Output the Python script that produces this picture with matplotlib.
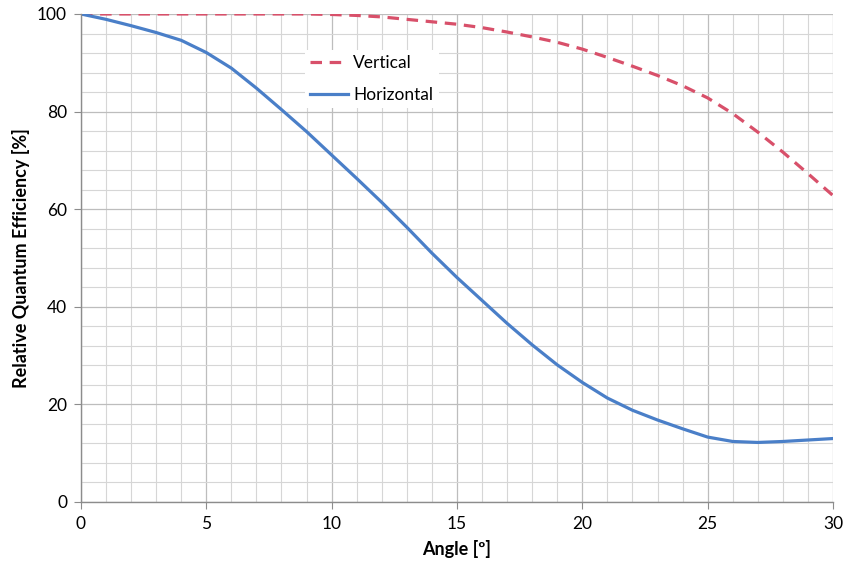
import matplotlib
matplotlib.use("Agg")
import matplotlib.pyplot as plt
from matplotlib.ticker import MultipleLocator

plt.rcParams["font.family"] = ["Lato", "DejaVu Sans"]

# data
angle = [0, 1, 2, 3, 4, 5, 6, 7, 8, 9, 10, 11, 12, 13, 14, 15, 16, 17, 18,
         19, 20, 21, 22, 23, 24, 25, 26, 27, 28, 29, 30]
horizontal = [100, 98.9, 97.6, 96.2, 94.6, 92.1, 88.9, 84.8, 80.4, 75.9, 71.1,
              66.3, 61.4, 56.3, 51.0, 46.0, 41.3, 36.6, 32.2, 28.1, 24.5,
              21.3, 18.8, 16.8, 15.0, 13.3, 12.4, 12.2, 12.4, 12.7, 13.0]
vertical = [100, 100, 100, 100, 100, 100, 100, 100, 100, 100, 99.9, 99.7,
            99.4, 98.9, 98.4, 97.9, 97.2, 96.3, 95.3, 94.2, 92.8, 91.1,
            89.3, 87.4, 85.3, 82.8, 79.6, 75.8, 71.7, 67.3, 62.8]

RED = "#d8506a"
BLUE = "#4a7fc8"

fig = plt.figure(figsize=(8.46, 5.66), dpi=100)
ax = fig.add_axes([0.0957, 0.1131, 0.8889, 0.8622])

ax.plot(angle, vertical, color=RED, lw=2.3, ls=(0, (3.6, 2.4)), label="Vertical")
ax.plot(angle, horizontal, color=BLUE, lw=2.3, label="Horizontal")

ax.set_xlim(0, 30)
ax.set_ylim(0, 100)
ax.xaxis.set_major_locator(MultipleLocator(5))
ax.xaxis.set_minor_locator(MultipleLocator(1))
ax.yaxis.set_major_locator(MultipleLocator(20))
ax.yaxis.set_minor_locator(MultipleLocator(4))
ax.grid(which="major", color="#bdbdbd", lw=0.9)
ax.grid(which="minor", color="#d6d6d6", lw=0.8)
ax.set_axisbelow(True)

for s in ["top", "right"]:
    ax.spines[s].set_visible(False)
for s in ["left", "bottom"]:
    ax.spines[s].set_color("#8c8c8c")
    ax.spines[s].set_linewidth(1.0)

ax.tick_params(which="major", length=5, color="#8c8c8c", labelsize=12.5,
               pad=5)
ax.tick_params(which="minor", length=0)

ax.set_xlabel("Angle [º]", fontsize=13, fontweight="bold", labelpad=6)
ax.set_ylabel("Relative Quantum Efficiency [%]", fontsize=13,
              fontweight="bold", labelpad=5)

leg = ax.legend(loc="upper left", bbox_to_anchor=(0.286, 0.944), fontsize=12.5,
                frameon=True, fancybox=False, edgecolor="none",
                facecolor="white", framealpha=1, handlelength=2.2,
                handletextpad=0.3, labelspacing=0.9, borderpad=0.3)

fig.savefig("out.png", dpi=100)
